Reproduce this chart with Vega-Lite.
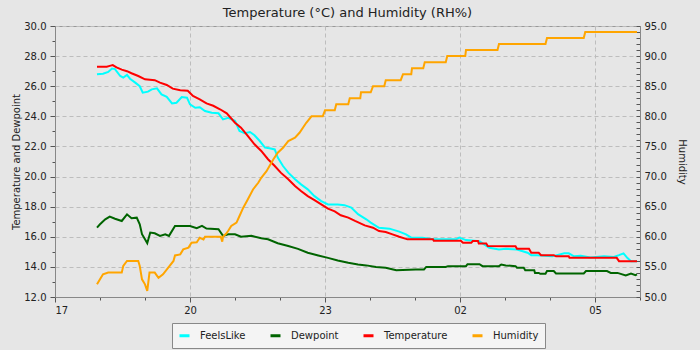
{
  "$schema": "https://vega.github.io/schema/vega-lite/v6.json",
  "width": 585,
  "height": 271,
  "autosize": {"type": "none"},
  "padding": {"left": 55, "top": 26, "right": 60, "bottom": 53},
  "background": "#e6e6e6",
  "title": {"text": "Temperature (°C) and Humidity (RH%)", "fontSize": 13, "font": "DejaVu Sans", "fontWeight": "normal", "color": "#222222", "anchor": "middle", "baseline": "alphabetic", "offset": -9},
  "datasets": {
    "obs": [
      {"t": "2024-06-01T17:56", "s": "FeelsLike", "v": 26.79},
      {"t": "2024-06-01T18:04", "s": "FeelsLike", "v": 26.83},
      {"t": "2024-06-01T18:11", "s": "FeelsLike", "v": 26.95},
      {"t": "2024-06-01T18:16", "s": "FeelsLike", "v": 27.18},
      {"t": "2024-06-01T18:20", "s": "FeelsLike", "v": 27.14},
      {"t": "2024-06-01T18:27", "s": "FeelsLike", "v": 26.68},
      {"t": "2024-06-01T18:31", "s": "FeelsLike", "v": 26.57},
      {"t": "2024-06-01T18:36", "s": "FeelsLike", "v": 26.75},
      {"t": "2024-06-01T18:40", "s": "FeelsLike", "v": 26.5},
      {"t": "2024-06-01T18:47", "s": "FeelsLike", "v": 26.24},
      {"t": "2024-06-01T18:53", "s": "FeelsLike", "v": 26.0},
      {"t": "2024-06-01T18:57", "s": "FeelsLike", "v": 25.57},
      {"t": "2024-06-01T19:04", "s": "FeelsLike", "v": 25.64},
      {"t": "2024-06-01T19:09", "s": "FeelsLike", "v": 25.79},
      {"t": "2024-06-01T19:16", "s": "FeelsLike", "v": 25.86},
      {"t": "2024-06-01T19:22", "s": "FeelsLike", "v": 25.46},
      {"t": "2024-06-01T19:29", "s": "FeelsLike", "v": 25.3},
      {"t": "2024-06-01T19:36", "s": "FeelsLike", "v": 24.86},
      {"t": "2024-06-01T19:42", "s": "FeelsLike", "v": 24.9},
      {"t": "2024-06-01T19:49", "s": "FeelsLike", "v": 25.28},
      {"t": "2024-06-01T19:56", "s": "FeelsLike", "v": 25.24},
      {"t": "2024-06-01T20:00", "s": "FeelsLike", "v": 24.8},
      {"t": "2024-06-01T20:07", "s": "FeelsLike", "v": 24.57},
      {"t": "2024-06-01T20:13", "s": "FeelsLike", "v": 24.6},
      {"t": "2024-06-01T20:20", "s": "FeelsLike", "v": 24.35},
      {"t": "2024-06-01T20:29", "s": "FeelsLike", "v": 24.24},
      {"t": "2024-06-01T20:38", "s": "FeelsLike", "v": 24.2},
      {"t": "2024-06-01T20:44", "s": "FeelsLike", "v": 23.8},
      {"t": "2024-06-01T20:51", "s": "FeelsLike", "v": 23.9},
      {"t": "2024-06-01T21:00", "s": "FeelsLike", "v": 23.7},
      {"t": "2024-06-01T21:06", "s": "FeelsLike", "v": 23.03},
      {"t": "2024-06-01T21:13", "s": "FeelsLike", "v": 22.88},
      {"t": "2024-06-01T21:20", "s": "FeelsLike", "v": 22.96},
      {"t": "2024-06-01T21:26", "s": "FeelsLike", "v": 22.74},
      {"t": "2024-06-01T21:33", "s": "FeelsLike", "v": 22.36},
      {"t": "2024-06-01T21:40", "s": "FeelsLike", "v": 21.92},
      {"t": "2024-06-01T21:46", "s": "FeelsLike", "v": 21.88},
      {"t": "2024-06-01T21:53", "s": "FeelsLike", "v": 21.8},
      {"t": "2024-06-01T21:57", "s": "FeelsLike", "v": 21.26},
      {"t": "2024-06-01T22:04", "s": "FeelsLike", "v": 20.7},
      {"t": "2024-06-01T22:11", "s": "FeelsLike", "v": 20.26},
      {"t": "2024-06-01T22:20", "s": "FeelsLike", "v": 19.82},
      {"t": "2024-06-01T22:28", "s": "FeelsLike", "v": 19.48},
      {"t": "2024-06-01T22:37", "s": "FeelsLike", "v": 19.15},
      {"t": "2024-06-01T22:46", "s": "FeelsLike", "v": 18.7},
      {"t": "2024-06-01T22:55", "s": "FeelsLike", "v": 18.37},
      {"t": "2024-06-01T23:04", "s": "FeelsLike", "v": 18.15},
      {"t": "2024-06-01T23:17", "s": "FeelsLike", "v": 18.15},
      {"t": "2024-06-01T23:26", "s": "FeelsLike", "v": 18.1},
      {"t": "2024-06-01T23:35", "s": "FeelsLike", "v": 17.94},
      {"t": "2024-06-01T23:44", "s": "FeelsLike", "v": 17.5},
      {"t": "2024-06-01T23:55", "s": "FeelsLike", "v": 17.16},
      {"t": "2024-06-02T00:01", "s": "FeelsLike", "v": 16.94},
      {"t": "2024-06-02T00:12", "s": "FeelsLike", "v": 16.6},
      {"t": "2024-06-02T00:26", "s": "FeelsLike", "v": 16.54},
      {"t": "2024-06-02T00:39", "s": "FeelsLike", "v": 16.34},
      {"t": "2024-06-02T00:48", "s": "FeelsLike", "v": 16.16},
      {"t": "2024-06-02T00:55", "s": "FeelsLike", "v": 15.94},
      {"t": "2024-06-02T01:10", "s": "FeelsLike", "v": 15.94},
      {"t": "2024-06-02T01:24", "s": "FeelsLike", "v": 15.83},
      {"t": "2024-06-02T01:55", "s": "FeelsLike", "v": 15.83},
      {"t": "2024-06-02T01:59", "s": "FeelsLike", "v": 15.94},
      {"t": "2024-06-02T02:08", "s": "FeelsLike", "v": 15.78},
      {"t": "2024-06-02T02:26", "s": "FeelsLike", "v": 15.7},
      {"t": "2024-06-02T02:39", "s": "FeelsLike", "v": 15.27},
      {"t": "2024-06-02T02:52", "s": "FeelsLike", "v": 15.16},
      {"t": "2024-06-02T03:01", "s": "FeelsLike", "v": 15.2},
      {"t": "2024-06-02T03:16", "s": "FeelsLike", "v": 15.16},
      {"t": "2024-06-02T03:30", "s": "FeelsLike", "v": 14.94},
      {"t": "2024-06-02T03:35", "s": "FeelsLike", "v": 14.78},
      {"t": "2024-06-02T03:43", "s": "FeelsLike", "v": 14.78},
      {"t": "2024-06-02T04:03", "s": "FeelsLike", "v": 14.7},
      {"t": "2024-06-02T04:19", "s": "FeelsLike", "v": 14.9},
      {"t": "2024-06-02T04:25", "s": "FeelsLike", "v": 14.9},
      {"t": "2024-06-02T04:32", "s": "FeelsLike", "v": 14.7},
      {"t": "2024-06-02T04:41", "s": "FeelsLike", "v": 14.74},
      {"t": "2024-06-02T04:54", "s": "FeelsLike", "v": 14.63},
      {"t": "2024-06-02T05:12", "s": "FeelsLike", "v": 14.7},
      {"t": "2024-06-02T05:25", "s": "FeelsLike", "v": 14.66},
      {"t": "2024-06-02T05:32", "s": "FeelsLike", "v": 14.78},
      {"t": "2024-06-02T05:38", "s": "FeelsLike", "v": 14.9},
      {"t": "2024-06-02T05:43", "s": "FeelsLike", "v": 14.6},
      {"t": "2024-06-02T05:48", "s": "FeelsLike", "v": 14.38},
      {"t": "2024-06-02T05:56", "s": "FeelsLike", "v": 14.38},

      {"t": "2024-06-01T17:56", "s": "Dewpoint", "v": 16.61},
      {"t": "2024-06-01T18:00", "s": "Dewpoint", "v": 16.83},
      {"t": "2024-06-01T18:07", "s": "Dewpoint", "v": 17.16},
      {"t": "2024-06-01T18:13", "s": "Dewpoint", "v": 17.34},
      {"t": "2024-06-01T18:20", "s": "Dewpoint", "v": 17.2},
      {"t": "2024-06-01T18:29", "s": "Dewpoint", "v": 17.05},
      {"t": "2024-06-01T18:36", "s": "Dewpoint", "v": 17.49},
      {"t": "2024-06-01T18:42", "s": "Dewpoint", "v": 17.23},
      {"t": "2024-06-01T18:49", "s": "Dewpoint", "v": 17.27},
      {"t": "2024-06-01T18:53", "s": "Dewpoint", "v": 16.83},
      {"t": "2024-06-01T18:56", "s": "Dewpoint", "v": 16.17},
      {"t": "2024-06-01T19:00", "s": "Dewpoint", "v": 15.83},
      {"t": "2024-06-01T19:03", "s": "Dewpoint", "v": 15.57},
      {"t": "2024-06-01T19:07", "s": "Dewpoint", "v": 16.28},
      {"t": "2024-06-01T19:13", "s": "Dewpoint", "v": 16.23},
      {"t": "2024-06-01T19:20", "s": "Dewpoint", "v": 16.06},
      {"t": "2024-06-01T19:27", "s": "Dewpoint", "v": 16.17},
      {"t": "2024-06-01T19:32", "s": "Dewpoint", "v": 16.06},
      {"t": "2024-06-01T19:40", "s": "Dewpoint", "v": 16.72},
      {"t": "2024-06-01T19:49", "s": "Dewpoint", "v": 16.72},
      {"t": "2024-06-01T20:00", "s": "Dewpoint", "v": 16.72},
      {"t": "2024-06-01T20:09", "s": "Dewpoint", "v": 16.57},
      {"t": "2024-06-01T20:16", "s": "Dewpoint", "v": 16.72},
      {"t": "2024-06-01T20:22", "s": "Dewpoint", "v": 16.55},
      {"t": "2024-06-01T20:38", "s": "Dewpoint", "v": 16.5},
      {"t": "2024-06-01T20:44", "s": "Dewpoint", "v": 16.06},
      {"t": "2024-06-01T20:51", "s": "Dewpoint", "v": 16.17},
      {"t": "2024-06-01T21:00", "s": "Dewpoint", "v": 16.17},
      {"t": "2024-06-01T21:08", "s": "Dewpoint", "v": 16.0},
      {"t": "2024-06-01T21:22", "s": "Dewpoint", "v": 16.06},
      {"t": "2024-06-01T21:35", "s": "Dewpoint", "v": 15.9},
      {"t": "2024-06-01T21:44", "s": "Dewpoint", "v": 15.83},
      {"t": "2024-06-01T21:57", "s": "Dewpoint", "v": 15.57},
      {"t": "2024-06-01T22:11", "s": "Dewpoint", "v": 15.39},
      {"t": "2024-06-01T22:24", "s": "Dewpoint", "v": 15.2},
      {"t": "2024-06-01T22:37", "s": "Dewpoint", "v": 14.94},
      {"t": "2024-06-01T22:51", "s": "Dewpoint", "v": 14.76},
      {"t": "2024-06-01T23:04", "s": "Dewpoint", "v": 14.6},
      {"t": "2024-06-01T23:17", "s": "Dewpoint", "v": 14.43},
      {"t": "2024-06-01T23:31", "s": "Dewpoint", "v": 14.27},
      {"t": "2024-06-01T23:44", "s": "Dewpoint", "v": 14.16},
      {"t": "2024-06-01T23:55", "s": "Dewpoint", "v": 14.1},
      {"t": "2024-06-02T00:08", "s": "Dewpoint", "v": 14.0},
      {"t": "2024-06-02T00:21", "s": "Dewpoint", "v": 13.94},
      {"t": "2024-06-02T00:35", "s": "Dewpoint", "v": 13.78},
      {"t": "2024-06-02T01:01", "s": "Dewpoint", "v": 13.83},
      {"t": "2024-06-02T01:12", "s": "Dewpoint", "v": 13.83},
      {"t": "2024-06-02T01:15", "s": "Dewpoint", "v": 14.0},
      {"t": "2024-06-02T01:41", "s": "Dewpoint", "v": 14.0},
      {"t": "2024-06-02T01:44", "s": "Dewpoint", "v": 14.05},
      {"t": "2024-06-02T02:08", "s": "Dewpoint", "v": 14.05},
      {"t": "2024-06-02T02:10", "s": "Dewpoint", "v": 14.18},
      {"t": "2024-06-02T02:26", "s": "Dewpoint", "v": 14.18},
      {"t": "2024-06-02T02:30", "s": "Dewpoint", "v": 14.05},
      {"t": "2024-06-02T02:52", "s": "Dewpoint", "v": 14.05},
      {"t": "2024-06-02T02:55", "s": "Dewpoint", "v": 14.16},
      {"t": "2024-06-02T03:01", "s": "Dewpoint", "v": 14.1},
      {"t": "2024-06-02T03:14", "s": "Dewpoint", "v": 14.05},
      {"t": "2024-06-02T03:16", "s": "Dewpoint", "v": 13.94},
      {"t": "2024-06-02T03:25", "s": "Dewpoint", "v": 13.94},
      {"t": "2024-06-02T03:27", "s": "Dewpoint", "v": 13.78},
      {"t": "2024-06-02T03:39", "s": "Dewpoint", "v": 13.78},
      {"t": "2024-06-02T03:40", "s": "Dewpoint", "v": 13.6},
      {"t": "2024-06-02T03:45", "s": "Dewpoint", "v": 13.6},
      {"t": "2024-06-02T03:47", "s": "Dewpoint", "v": 13.54},
      {"t": "2024-06-02T03:54", "s": "Dewpoint", "v": 13.54},
      {"t": "2024-06-02T03:56", "s": "Dewpoint", "v": 13.72},
      {"t": "2024-06-02T04:05", "s": "Dewpoint", "v": 13.72},
      {"t": "2024-06-02T04:08", "s": "Dewpoint", "v": 13.56},
      {"t": "2024-06-02T04:45", "s": "Dewpoint", "v": 13.56},
      {"t": "2024-06-02T04:48", "s": "Dewpoint", "v": 13.72},
      {"t": "2024-06-02T05:16", "s": "Dewpoint", "v": 13.72},
      {"t": "2024-06-02T05:21", "s": "Dewpoint", "v": 13.6},
      {"t": "2024-06-02T05:30", "s": "Dewpoint", "v": 13.6},
      {"t": "2024-06-02T05:41", "s": "Dewpoint", "v": 13.43},
      {"t": "2024-06-02T05:48", "s": "Dewpoint", "v": 13.56},
      {"t": "2024-06-02T05:54", "s": "Dewpoint", "v": 13.45},
      {"t": "2024-06-02T05:56", "s": "Dewpoint", "v": 13.5},

      {"t": "2024-06-01T17:56", "s": "Temperature", "v": 27.3},
      {"t": "2024-06-01T18:09", "s": "Temperature", "v": 27.3},
      {"t": "2024-06-01T18:13", "s": "Temperature", "v": 27.35},
      {"t": "2024-06-01T18:17", "s": "Temperature", "v": 27.4},
      {"t": "2024-06-01T18:22", "s": "Temperature", "v": 27.25},
      {"t": "2024-06-01T18:29", "s": "Temperature", "v": 27.1},
      {"t": "2024-06-01T18:36", "s": "Temperature", "v": 27.0},
      {"t": "2024-06-01T18:42", "s": "Temperature", "v": 26.86},
      {"t": "2024-06-01T18:51", "s": "Temperature", "v": 26.68},
      {"t": "2024-06-01T19:00", "s": "Temperature", "v": 26.46},
      {"t": "2024-06-01T19:13", "s": "Temperature", "v": 26.4},
      {"t": "2024-06-01T19:20", "s": "Temperature", "v": 26.24},
      {"t": "2024-06-01T19:29", "s": "Temperature", "v": 26.08},
      {"t": "2024-06-01T19:37", "s": "Temperature", "v": 25.84},
      {"t": "2024-06-01T19:47", "s": "Temperature", "v": 25.73},
      {"t": "2024-06-01T19:57", "s": "Temperature", "v": 25.7},
      {"t": "2024-06-01T20:04", "s": "Temperature", "v": 25.35},
      {"t": "2024-06-01T20:13", "s": "Temperature", "v": 25.13},
      {"t": "2024-06-01T20:22", "s": "Temperature", "v": 24.86},
      {"t": "2024-06-01T20:31", "s": "Temperature", "v": 24.7},
      {"t": "2024-06-01T20:40", "s": "Temperature", "v": 24.47},
      {"t": "2024-06-01T20:49", "s": "Temperature", "v": 24.2},
      {"t": "2024-06-01T21:00", "s": "Temperature", "v": 23.58},
      {"t": "2024-06-01T21:08", "s": "Temperature", "v": 23.25},
      {"t": "2024-06-01T21:17", "s": "Temperature", "v": 22.7},
      {"t": "2024-06-01T21:26", "s": "Temperature", "v": 22.14},
      {"t": "2024-06-01T21:35", "s": "Temperature", "v": 21.7},
      {"t": "2024-06-01T21:44", "s": "Temperature", "v": 21.15},
      {"t": "2024-06-01T21:53", "s": "Temperature", "v": 20.7},
      {"t": "2024-06-01T22:01", "s": "Temperature", "v": 20.26},
      {"t": "2024-06-01T22:11", "s": "Temperature", "v": 19.82},
      {"t": "2024-06-01T22:20", "s": "Temperature", "v": 19.37},
      {"t": "2024-06-01T22:28", "s": "Temperature", "v": 19.04},
      {"t": "2024-06-01T22:37", "s": "Temperature", "v": 18.7},
      {"t": "2024-06-01T22:46", "s": "Temperature", "v": 18.44},
      {"t": "2024-06-01T22:55", "s": "Temperature", "v": 18.15},
      {"t": "2024-06-01T23:04", "s": "Temperature", "v": 17.87},
      {"t": "2024-06-01T23:13", "s": "Temperature", "v": 17.69},
      {"t": "2024-06-01T23:21", "s": "Temperature", "v": 17.43},
      {"t": "2024-06-01T23:31", "s": "Temperature", "v": 17.27},
      {"t": "2024-06-01T23:40", "s": "Temperature", "v": 17.05},
      {"t": "2024-06-01T23:53", "s": "Temperature", "v": 16.76},
      {"t": "2024-06-02T00:04", "s": "Temperature", "v": 16.6},
      {"t": "2024-06-02T00:12", "s": "Temperature", "v": 16.38},
      {"t": "2024-06-02T00:21", "s": "Temperature", "v": 16.32},
      {"t": "2024-06-02T00:30", "s": "Temperature", "v": 16.16},
      {"t": "2024-06-02T00:39", "s": "Temperature", "v": 16.0},
      {"t": "2024-06-02T00:50", "s": "Temperature", "v": 15.83},
      {"t": "2024-06-02T01:24", "s": "Temperature", "v": 15.83},
      {"t": "2024-06-02T01:25", "s": "Temperature", "v": 15.74},
      {"t": "2024-06-02T02:01", "s": "Temperature", "v": 15.74},
      {"t": "2024-06-02T02:04", "s": "Temperature", "v": 15.6},
      {"t": "2024-06-02T02:15", "s": "Temperature", "v": 15.6},
      {"t": "2024-06-02T02:17", "s": "Temperature", "v": 15.72},
      {"t": "2024-06-02T02:24", "s": "Temperature", "v": 15.72},
      {"t": "2024-06-02T02:25", "s": "Temperature", "v": 15.56},
      {"t": "2024-06-02T02:35", "s": "Temperature", "v": 15.56},
      {"t": "2024-06-02T02:37", "s": "Temperature", "v": 15.39},
      {"t": "2024-06-02T03:14", "s": "Temperature", "v": 15.37},
      {"t": "2024-06-02T03:16", "s": "Temperature", "v": 15.2},
      {"t": "2024-06-02T03:32", "s": "Temperature", "v": 15.2},
      {"t": "2024-06-02T03:35", "s": "Temperature", "v": 14.94},
      {"t": "2024-06-02T03:45", "s": "Temperature", "v": 14.94},
      {"t": "2024-06-02T03:48", "s": "Temperature", "v": 14.78},
      {"t": "2024-06-02T04:05", "s": "Temperature", "v": 14.78},
      {"t": "2024-06-02T04:08", "s": "Temperature", "v": 14.7},
      {"t": "2024-06-02T04:25", "s": "Temperature", "v": 14.7},
      {"t": "2024-06-02T04:26", "s": "Temperature", "v": 14.6},
      {"t": "2024-06-02T05:29", "s": "Temperature", "v": 14.6},
      {"t": "2024-06-02T05:32", "s": "Temperature", "v": 14.38},
      {"t": "2024-06-02T05:56", "s": "Temperature", "v": 14.38},

      {"t": "2024-06-01T17:56", "s": "Humidity", "v": 52.1},
      {"t": "2024-06-01T18:00", "s": "Humidity", "v": 52.94},
      {"t": "2024-06-01T18:04", "s": "Humidity", "v": 53.77},
      {"t": "2024-06-01T18:11", "s": "Humidity", "v": 54.05},
      {"t": "2024-06-01T18:29", "s": "Humidity", "v": 54.05},
      {"t": "2024-06-01T18:31", "s": "Humidity", "v": 55.15},
      {"t": "2024-06-01T18:36", "s": "Humidity", "v": 55.98},
      {"t": "2024-06-01T18:51", "s": "Humidity", "v": 55.98},
      {"t": "2024-06-01T18:53", "s": "Humidity", "v": 55.15},
      {"t": "2024-06-01T18:56", "s": "Humidity", "v": 52.94},
      {"t": "2024-06-01T19:00", "s": "Humidity", "v": 52.1},
      {"t": "2024-06-01T19:03", "s": "Humidity", "v": 51.0},
      {"t": "2024-06-01T19:06", "s": "Humidity", "v": 54.05},
      {"t": "2024-06-01T19:13", "s": "Humidity", "v": 54.05},
      {"t": "2024-06-01T19:18", "s": "Humidity", "v": 53.2},
      {"t": "2024-06-01T19:24", "s": "Humidity", "v": 53.77},
      {"t": "2024-06-01T19:31", "s": "Humidity", "v": 54.87},
      {"t": "2024-06-01T19:38", "s": "Humidity", "v": 55.98},
      {"t": "2024-06-01T19:40", "s": "Humidity", "v": 56.9},
      {"t": "2024-06-01T19:47", "s": "Humidity", "v": 57.08},
      {"t": "2024-06-01T19:51", "s": "Humidity", "v": 57.9},
      {"t": "2024-06-01T19:58", "s": "Humidity", "v": 58.2},
      {"t": "2024-06-01T20:02", "s": "Humidity", "v": 59.0},
      {"t": "2024-06-01T20:09", "s": "Humidity", "v": 59.1},
      {"t": "2024-06-01T20:13", "s": "Humidity", "v": 59.83},
      {"t": "2024-06-01T20:18", "s": "Humidity", "v": 59.55},
      {"t": "2024-06-01T20:20", "s": "Humidity", "v": 60.0},
      {"t": "2024-06-01T20:41", "s": "Humidity", "v": 60.0},
      {"t": "2024-06-01T20:43", "s": "Humidity", "v": 59.2},
      {"t": "2024-06-01T20:44", "s": "Humidity", "v": 60.0},
      {"t": "2024-06-01T20:48", "s": "Humidity", "v": 60.5},
      {"t": "2024-06-01T20:51", "s": "Humidity", "v": 61.0},
      {"t": "2024-06-01T20:55", "s": "Humidity", "v": 61.8},
      {"t": "2024-06-01T21:02", "s": "Humidity", "v": 62.35},
      {"t": "2024-06-01T21:06", "s": "Humidity", "v": 63.45},
      {"t": "2024-06-01T21:11", "s": "Humidity", "v": 64.83},
      {"t": "2024-06-01T21:17", "s": "Humidity", "v": 66.2},
      {"t": "2024-06-01T21:24", "s": "Humidity", "v": 67.86},
      {"t": "2024-06-01T21:31", "s": "Humidity", "v": 68.97},
      {"t": "2024-06-01T21:35", "s": "Humidity", "v": 69.8},
      {"t": "2024-06-01T21:42", "s": "Humidity", "v": 70.9},
      {"t": "2024-06-01T21:46", "s": "Humidity", "v": 71.74},
      {"t": "2024-06-01T21:51", "s": "Humidity", "v": 72.84},
      {"t": "2024-06-01T21:57", "s": "Humidity", "v": 73.95},
      {"t": "2024-06-01T22:04", "s": "Humidity", "v": 74.78},
      {"t": "2024-06-01T22:11", "s": "Humidity", "v": 75.89},
      {"t": "2024-06-01T22:20", "s": "Humidity", "v": 76.44},
      {"t": "2024-06-01T22:26", "s": "Humidity", "v": 77.27},
      {"t": "2024-06-01T22:35", "s": "Humidity", "v": 78.93},
      {"t": "2024-06-01T22:42", "s": "Humidity", "v": 80.0},
      {"t": "2024-06-01T22:57", "s": "Humidity", "v": 80.0},
      {"t": "2024-06-01T23:00", "s": "Humidity", "v": 81.0},
      {"t": "2024-06-01T23:13", "s": "Humidity", "v": 81.0},
      {"t": "2024-06-01T23:15", "s": "Humidity", "v": 82.0},
      {"t": "2024-06-01T23:31", "s": "Humidity", "v": 82.0},
      {"t": "2024-06-01T23:33", "s": "Humidity", "v": 83.0},
      {"t": "2024-06-01T23:47", "s": "Humidity", "v": 83.0},
      {"t": "2024-06-01T23:48", "s": "Humidity", "v": 84.0},
      {"t": "2024-06-02T00:01", "s": "Humidity", "v": 84.0},
      {"t": "2024-06-02T00:04", "s": "Humidity", "v": 85.0},
      {"t": "2024-06-02T00:19", "s": "Humidity", "v": 85.0},
      {"t": "2024-06-02T00:21", "s": "Humidity", "v": 86.0},
      {"t": "2024-06-02T00:41", "s": "Humidity", "v": 86.0},
      {"t": "2024-06-02T00:44", "s": "Humidity", "v": 87.0},
      {"t": "2024-06-02T00:55", "s": "Humidity", "v": 87.0},
      {"t": "2024-06-02T00:56", "s": "Humidity", "v": 88.0},
      {"t": "2024-06-02T01:11", "s": "Humidity", "v": 88.0},
      {"t": "2024-06-02T01:13", "s": "Humidity", "v": 89.0},
      {"t": "2024-06-02T01:41", "s": "Humidity", "v": 89.0},
      {"t": "2024-06-02T01:43", "s": "Humidity", "v": 90.0},
      {"t": "2024-06-02T02:07", "s": "Humidity", "v": 90.0},
      {"t": "2024-06-02T02:08", "s": "Humidity", "v": 91.0},
      {"t": "2024-06-02T02:50", "s": "Humidity", "v": 91.0},
      {"t": "2024-06-02T02:52", "s": "Humidity", "v": 92.0},
      {"t": "2024-06-02T03:54", "s": "Humidity", "v": 92.0},
      {"t": "2024-06-02T03:56", "s": "Humidity", "v": 93.0},
      {"t": "2024-06-02T04:45", "s": "Humidity", "v": 93.0},
      {"t": "2024-06-02T04:47", "s": "Humidity", "v": 94.0},
      {"t": "2024-06-02T05:56", "s": "Humidity", "v": 94.0}
    ]
  },
  "data": {"name": "obs"},
  "encoding": {
    "x": {
      "field": "t",
      "type": "temporal",
      "scale": {"domain": [{"year": 2024, "month": 6, "date": 1, "hours": 17}, {"year": 2024, "month": 6, "date": 2, "hours": 6}], "nice": false},
      "axis": {
        "title": null,
        "values": [
          {"year": 2024, "month": 6, "date": 1, "hours": 17},
          {"year": 2024, "month": 6, "date": 1, "hours": 18},
          {"year": 2024, "month": 6, "date": 1, "hours": 19},
          {"year": 2024, "month": 6, "date": 1, "hours": 20},
          {"year": 2024, "month": 6, "date": 1, "hours": 21},
          {"year": 2024, "month": 6, "date": 1, "hours": 22},
          {"year": 2024, "month": 6, "date": 1, "hours": 23},
          {"year": 2024, "month": 6, "date": 2, "hours": 0},
          {"year": 2024, "month": 6, "date": 2, "hours": 1},
          {"year": 2024, "month": 6, "date": 2, "hours": 2},
          {"year": 2024, "month": 6, "date": 2, "hours": 3},
          {"year": 2024, "month": 6, "date": 2, "hours": 4},
          {"year": 2024, "month": 6, "date": 2, "hours": 5},
          {"year": 2024, "month": 6, "date": 2, "hours": 6}
        ],
        "labelExpr": "hours(datum.value) % 3 == 2 ? timeFormat(datum.value, '%H') : ''",
        "labelOverlap": false,
        "labelPadding": 3,
        "grid": true,
        "gridOpacity": {"condition": {"test": "hours(datum.value) % 3 == 2", "value": 1}, "value": 0},
        "tickSize": {"condition": {"test": "hours(datum.value) % 3 == 2", "value": 5}, "value": 3}
      }
    }
  },
  "layer": [
    {
      "transform": [{"filter": "datum.s != 'Humidity'"}],
      "mark": {"type": "line", "strokeWidth": 2},
      "encoding": {
        "y": {
          "field": "v",
          "type": "quantitative",
          "scale": {"domain": [12, 30], "nice": false, "zero": false},
          "axis": {
            "title": "Temperature and Dewpoint",
            "values": [12, 13, 14, 15, 16, 17, 18, 19, 20, 21, 22, 23, 24, 25, 26, 27, 28, 29, 30],
            "labelExpr": "datum.value % 2 == 0 ? format(datum.value, '.1f') : ''",
            "labelOverlap": false,
            "labelPadding": 4,
            "titlePadding": 2,
            "grid": true,
            "gridOpacity": {"condition": {"test": "datum.value % 2 == 0", "value": 1}, "value": 0},
            "tickSize": {"condition": {"test": "datum.value % 2 == 0", "value": 5}, "value": 3}
          }
        },
        "color": {
          "field": "s",
          "type": "nominal",
          "scale": {"domain": ["FeelsLike", "Dewpoint", "Temperature", "Humidity"], "range": ["#00ffff", "#006400", "#ff0000", "#ffa500"]},
          "legend": {
            "orient": "none", "legendX": 117, "legendY": 297, "direction": "horizontal", "title": null,
            "symbolType": "stroke", "symbolStrokeWidth": 3, "symbolSize": 100,
            "labelFontSize": 10, "labelOffset": 9, "columnPadding": 18, "padding": 6,
            "fillColor": "#f4f4f4", "strokeColor": "#888888", "labelColor": "#222222"
          }
        }
      }
    },
    {
      "transform": [{"filter": "datum.s == 'Humidity'"}],
      "mark": {"type": "line", "strokeWidth": 2},
      "encoding": {
        "y": {
          "field": "v",
          "type": "quantitative",
          "scale": {"domain": [50, 95], "nice": false, "zero": false},
          "axis": {
            "orient": "right",
            "title": "Humidity",
            "values": [50,51,52,53,54,55,56,57,58,59,60,61,62,63,64,65,66,67,68,69,70,71,72,73,74,75,76,77,78,79,80,81,82,83,84,85,86,87,88,89,90,91,92,93,94,95],
            "labelExpr": "datum.value % 5 == 0 ? format(datum.value, '.1f') : ''",
            "labelOverlap": false,
            "labelPadding": 8,
            "titlePadding": 10,
            "grid": false,
            "tickSize": -4
          }
        },
        "color": {"field": "s", "type": "nominal"}
      }
    }
  ],
  "resolve": {"scale": {"y": "independent"}},
  "config": {
    "font": "DejaVu Sans",
    "view": {"stroke": "#999999", "fill": "#e6e6e6"},
    "axis": {
      "domainColor": "#888888",
      "tickColor": "#555555",
      "labelColor": "#222222",
      "titleColor": "#222222",
      "labelFontSize": 10,
      "titleFontSize": 10,
      "titleFontWeight": "normal",
      "gridColor": "#bdbdbd",
      "gridDash": [4, 3],
      "gridWidth": 1
    }
  }
}
